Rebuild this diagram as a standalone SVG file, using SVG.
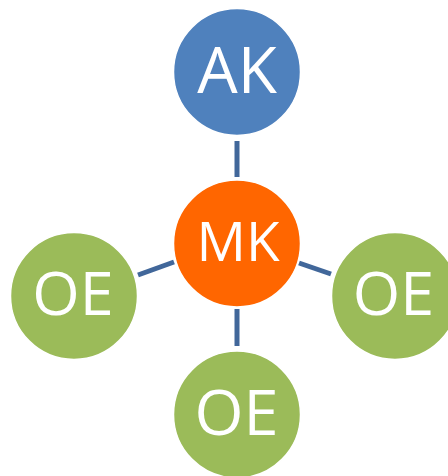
<svg xmlns="http://www.w3.org/2000/svg" width="448" height="476" viewBox="0 0 448 476">
<style>
.c{stroke:#ffffff;stroke-width:1.5}
.t{font-family:"Open Sans","Liberation Sans",sans-serif;fill:#ffffff;text-anchor:middle}
.l{stroke:#41679A;stroke-width:5;fill:none}
</style>
<rect width="448" height="476" fill="#ffffff"/>
<g id="connectors">
<line class="l" x1="237" y1="141" x2="237" y2="177"/>
<line class="l" x1="237" y1="309" x2="237" y2="346"/>
<line class="l" x1="138" y1="275" x2="174" y2="262"/>
<line class="l" x1="299" y1="263" x2="331" y2="274"/>
</g>
<g id="AK">
<circle class="c" cx="237" cy="72" r="63.5" fill="#4F81BD"/>
<text class="t" x="237" y="92.5" font-size="64">AK</text>
</g>
<g id="MK">
<circle class="c" cx="237" cy="243.5" r="63.5" fill="#FF6600"/>
<text class="t" x="238" y="260.5" font-size="55">MK</text>
</g>
<g id="OE_left">
<circle class="c" cx="74" cy="296" r="63.5" fill="#9BBB59"/>
<text class="t" x="73" y="315" font-size="61">OE</text>
</g>
<g id="OE_right">
<circle class="c" cx="395" cy="296" r="63.5" fill="#9BBB59"/>
<text class="t" x="393.5" y="315" font-size="61">OE</text>
</g>
<g id="OE_bottom">
<circle class="c" cx="237" cy="414.5" r="63.5" fill="#9BBB59"/>
<text class="t" x="236.5" y="435" font-size="63">OE</text>
</g>
</svg>
